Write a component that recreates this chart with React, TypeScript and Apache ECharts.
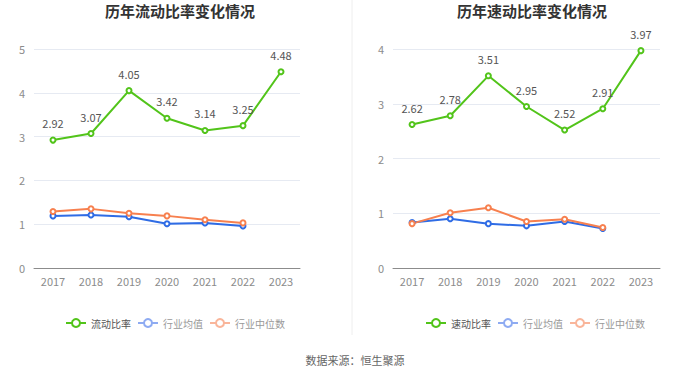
import React, { useEffect, useRef } from "react";
import * as echarts from "echarts";

const years = ["2017", "2018", "2019", "2020", "2021", "2022", "2023"];
const currentRatio = [2.92, 3.07, 4.05, 3.42, 3.14, 3.25, 4.48];
const currentAvg = [1.19, 1.21, 1.17, 1.01, 1.03, 0.96];
const currentMedian = [1.29, 1.35, 1.25, 1.19, 1.1, 1.03];
const quickRatio = [2.62, 2.78, 3.51, 2.95, 2.52, 2.91, 3.97];
const quickAvg = [0.83, 0.9, 0.81, 0.77, 0.85, 0.72];
const quickMedian = [0.81, 1.01, 1.1, 0.85, 0.89, 0.74];

const GREEN = "#52c41a";
const BLUE = "#2f6ce5";
const ORANGE = "#f7804f";
const FONT = "'Noto Sans CJK SC', 'Noto Sans', sans-serif";

export default function App() {
  const ref = useRef<HTMLDivElement>(null);
  useEffect(() => {
    if (!ref.current) return;
    const chart = echarts.init(ref.current, null, { renderer: "svg" });
    const mkX = (i: number) => ({
      type: "category" as const,
      gridIndex: i,
      data: years,
      axisLine: { lineStyle: { color: "#8c8c8c" } },
      axisTick: { lineStyle: { color: "#8c8c8c" } },
      axisLabel: { color: "#8c8c8c", fontSize: 11, fontFamily: FONT, margin: 7 },
    });
    const mkY = (i: number, max: number) => ({
      type: "value" as const,
      gridIndex: i,
      min: 0,
      max,
      interval: 1,
      axisLine: { show: false },
      axisTick: { show: false },
      axisLabel: { color: "#8c8c8c", fontSize: 11, fontFamily: FONT, margin: 9 },
      splitLine: { lineStyle: { color: "#e6eaf2" } },
    });
    const line = (name: string, data: number[], color: string, idx: number, label: boolean) => ({
      type: "line" as const,
      name,
      data,
      xAxisIndex: idx,
      yAxisIndex: idx,
      symbol: "emptyCircle",
      symbolSize: 5,
      lineStyle: { color, width: 2 },
      itemStyle: { color },
      label: label
        ? { show: true, position: "top", color: "#555", fontSize: 11, fontFamily: FONT, distance: 8 }
        : { show: false },
      z: label ? 3 : 2,
    });
    const legendData = (main: string) => [
      { name: main, textStyle: { color: "#555" } },
      { name: "行业均值", textStyle: { color: "#999" }, itemStyle: { color: "#8eabf2" }, lineStyle: { color: "#8eabf2" } },
      { name: "行业中位数", textStyle: { color: "#999" }, itemStyle: { color: "#f9b59a" }, lineStyle: { color: "#f9b59a" } },
    ];
    const legendBase = { top: 313, itemWidth: 20, itemHeight: 10, itemGap: 6, textStyle: { fontSize: 10, fontFamily: FONT } };
    chart.setOption({
      animation: false,
      title: [
        { text: "历年流动比率变化情况", left: 175, textAlign: "center", top: -2, textStyle: { fontSize: 15, fontWeight: "bold", color: "#333", fontFamily: FONT } },
        { text: "历年速动比率变化情况", left: 527, textAlign: "center", top: -2, textStyle: { fontSize: 15, fontWeight: "bold", color: "#333", fontFamily: FONT } },
        { text: "数据来源：恒生聚源", left: 350, textAlign: "center", top: 349, textStyle: { fontSize: 11, fontWeight: "normal", color: "#666", fontFamily: FONT } },
      ],
      legend: [
        { ...legendBase, data: legendData("流动比率"), left: 60 },
        { ...legendBase, data: legendData("速动比率"), left: 420 },
      ],
      grid: [
        { left: 34, top: 49, width: 266, height: 219 },
        { left: 393, top: 49, width: 267, height: 219 },
      ],
      xAxis: [mkX(0), mkX(1)],
      yAxis: [mkY(0, 5), mkY(1, 4)],
      series: [
        line("流动比率", currentRatio, GREEN, 0, true),
        line("行业均值", currentAvg, BLUE, 0, false),
        line("行业中位数", currentMedian, ORANGE, 0, false),
        line("速动比率", quickRatio, GREEN, 1, true),
        line("行业均值", quickAvg, BLUE, 1, false),
        line("行业中位数", quickMedian, ORANGE, 1, false),
      ],
      graphic: [
        { type: "line", shape: { x1: 352, y1: 0, x2: 352, y2: 335 }, style: { stroke: "#eeeeee", lineWidth: 1 } },
      ],
    });
    return () => chart.dispose();
  }, []);
  return (
    <div
      ref={ref}
      style={{ position: "fixed", left: 0, top: 0, width: 700, height: 377, background: "#fff" }}
    />
  );
}
